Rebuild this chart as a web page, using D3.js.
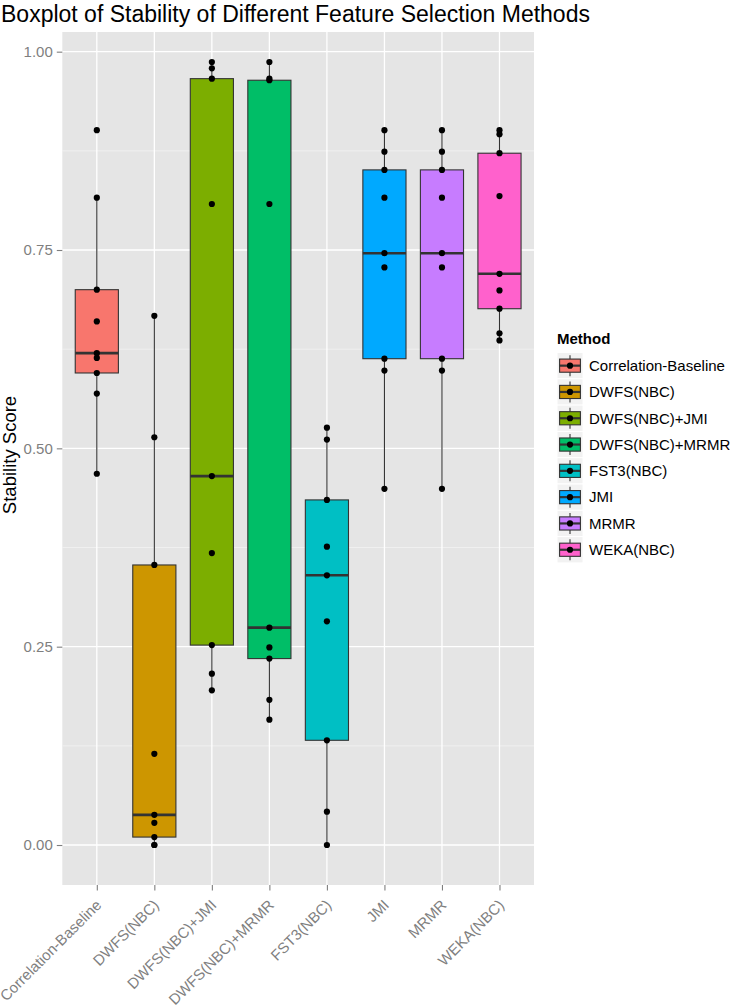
<!DOCTYPE html>
<html>
<head>
<meta charset="utf-8">
<script src="https://cdn.jsdelivr.net/npm/d3@7"></script>
<style>
html, body { margin: 0; padding: 0; background: #ffffff; }
svg { display: block; font-family: "Liberation Sans", Arial, sans-serif; }
</style>
</head>
<body>
<svg id="chart" width="734" height="1008"></svg>
<script>
// ---- data ----
const methods = ["Correlation-Baseline", "DWFS(NBC)", "DWFS(NBC)+JMI", "DWFS(NBC)+MRMR", "FST3(NBC)", "JMI", "MRMR", "WEKA(NBC)"];
const fillColors = ["#F8766D", "#CD9600", "#7CAE00", "#00BE67", "#00BFC4", "#00A9FF", "#C77CFF", "#FF61CC"];
const corrBaseline = [0.901, 0.816, 0.700, 0.660, 0.620, 0.614, 0.595, 0.569, 0.468];
const dwfsNbc = [0.667, 0.514, 0.353, 0.115, 0.038, 0.028, 0.010, 0.000, 0.000];
const dwfsJmi = [0.987, 0.979, 0.966, 0.808, 0.465, 0.368, 0.252, 0.216, 0.195];
const dwfsMrmr = [0.987, 0.966, 0.964, 0.808, 0.274, 0.249, 0.235, 0.183, 0.158];
const fst3Nbc = [0.526, 0.511, 0.435, 0.376, 0.340, 0.282, 0.132, 0.042, 0.000];
const jmi = [0.901, 0.874, 0.851, 0.816, 0.746, 0.728, 0.613, 0.598, 0.449];
const mrmr = [0.901, 0.874, 0.851, 0.816, 0.746, 0.728, 0.613, 0.598, 0.449];
const wekaNbc = [0.901, 0.896, 0.872, 0.818, 0.720, 0.699, 0.676, 0.645, 0.636];
const yTicks = [0, 0.25, 0.5, 0.75, 1];
const yTickLabels = ["0.00", "0.25", "0.50", "0.75", "1.00"];
const yMinorTicks = [0.125, 0.375, 0.625, 0.875];
const titleText = "Boxplot of Stability of Different Feature Selection Methods";
const yTitle = "Stability Score";
const legendTitle = "Method";

const seriesValues = [corrBaseline, dwfsNbc, dwfsJmi, dwfsMrmr, fst3Nbc, jmi, mrmr, wekaNbc];

// ---- layout ----
const panel = { left: 62.3, right: 534, top: 32, bottom: 885 };
const svg = d3.select("#chart");

const x = d3.scalePoint().domain(methods).range([panel.left, panel.right]).padding(0.6);
const y = d3.scaleLinear().domain([-0.0504, 1.0248]).range([panel.bottom, panel.top]);
const color = d3.scaleOrdinal().domain(methods).range(fillColors);
const boxW = x.step() * 0.75;

// stats
const stats = methods.map((m, i) => {
  const v = seriesValues[i].slice().sort(d3.ascending);
  const q1 = d3.quantile(v, 0.25), med = d3.quantile(v, 0.5), q3 = d3.quantile(v, 0.75);
  const iqr = q3 - q1;
  const lo = d3.min(v.filter(d => d >= q1 - 1.5 * iqr));
  const hi = d3.max(v.filter(d => d <= q3 + 1.5 * iqr));
  return { m, v, q1, med, q3, lo, hi };
});

// panel background
svg.append("rect").attr("x", panel.left).attr("y", panel.top)
  .attr("width", panel.right - panel.left).attr("height", panel.bottom - panel.top)
  .attr("fill", "#E5E5E5");

// grid
const g = svg.append("g");
g.selectAll("line.minor").data(yMinorTicks).enter().append("line")
  .attr("x1", panel.left).attr("x2", panel.right)
  .attr("y1", d => y(d)).attr("y2", d => y(d))
  .attr("stroke", "#F2F2F2").attr("stroke-width", 0.8);
g.selectAll("line.majy").data(yTicks).enter().append("line")
  .attr("x1", panel.left).attr("x2", panel.right)
  .attr("y1", d => y(d)).attr("y2", d => y(d))
  .attr("stroke", "#FFFFFF").attr("stroke-width", 1.3);
g.selectAll("line.majx").data(methods).enter().append("line")
  .attr("x1", d => x(d)).attr("x2", d => x(d))
  .attr("y1", panel.top).attr("y2", panel.bottom)
  .attr("stroke", "#FFFFFF").attr("stroke-width", 1.3);

// boxes
const bx = svg.append("g").selectAll("g").data(stats).enter().append("g");
bx.append("line").attr("x1", d => x(d.m)).attr("x2", d => x(d.m))
  .attr("y1", d => y(d.hi)).attr("y2", d => y(d.q3))
  .attr("stroke", "#333333").attr("stroke-width", 1.1);
bx.append("line").attr("x1", d => x(d.m)).attr("x2", d => x(d.m))
  .attr("y1", d => y(d.q1)).attr("y2", d => y(d.lo))
  .attr("stroke", "#333333").attr("stroke-width", 1.1);
bx.append("rect").attr("x", d => x(d.m) - boxW / 2).attr("width", boxW)
  .attr("y", d => y(d.q3)).attr("height", d => y(d.q1) - y(d.q3))
  .attr("fill", d => color(d.m)).attr("stroke", "#333333").attr("stroke-width", 1.1);
bx.append("line").attr("x1", d => x(d.m) - boxW / 2).attr("x2", d => x(d.m) + boxW / 2)
  .attr("y1", d => y(d.med)).attr("y2", d => y(d.med))
  .attr("stroke", "#333333").attr("stroke-width", 2.6);

// points
const pts = [];
stats.forEach(s => s.v.forEach(v => pts.push({ m: s.m, v })));
svg.append("g").selectAll("circle").data(pts).enter().append("circle")
  .attr("cx", d => x(d.m)).attr("cy", d => y(d.v)).attr("r", 3.1).attr("fill", "#000000");

// y axis
const yAxis = d3.axisLeft(y).tickValues(yTicks).tickFormat((d, i) => yTickLabels[i]).tickSize(5.5).tickPadding(4);
const ya = svg.append("g").attr("transform", `translate(${panel.left},0)`).call(yAxis);
ya.select(".domain").remove();
ya.selectAll(".tick line").attr("stroke", "#7F7F7F").attr("stroke-width", 1.1);
ya.selectAll(".tick text").attr("fill", "#7F7F7F").attr("font-size", 15)
  .attr("font-family", "Liberation Sans, Arial, sans-serif");

// x axis
const xAxis = d3.axisBottom(x).tickSize(5.5).tickPadding(0);
const xa = svg.append("g").attr("transform", `translate(0,${panel.bottom})`).call(xAxis);
xa.select(".domain").remove();
xa.selectAll(".tick line").attr("stroke", "#7F7F7F").attr("stroke-width", 1.1);
xa.selectAll(".tick text").attr("fill", "#7F7F7F").attr("font-size", 15)
  .attr("font-family", "Liberation Sans, Arial, sans-serif")
  .attr("text-anchor", "end").attr("dy", null).attr("y", null)
  .attr("transform", "translate(5,21) rotate(-45)");

// titles
svg.append("text").attr("x", 1).attr("y", 22).attr("font-size", 23).attr("fill", "#000")
  .text(titleText);
svg.append("text").attr("transform", "translate(15.5,455) rotate(-90)")
  .attr("text-anchor", "middle").attr("font-size", 18.5).attr("fill", "#000").text(yTitle);

// legend
const lg = svg.append("g");
lg.append("text").attr("x", 557).attr("y", 344).attr("font-size", 15).attr("font-weight", "bold")
  .attr("fill", "#000").text(legendTitle);
const keyH = 26.3, keyW = 26, keyX = 557, keyY0 = 352.5;
const items = lg.selectAll("g.item").data(methods).enter().append("g")
  .attr("transform", (d, i) => `translate(${keyX},${keyY0 + i * keyH})`);
items.append("rect").attr("width", keyW).attr("height", keyH).attr("fill", "#F2F2F2")
  .attr("stroke", "#FFFFFF").attr("stroke-width", 1);
items.append("line").attr("x1", keyW / 2).attr("x2", keyW / 2).attr("y1", keyH * 0.1).attr("y2", keyH * 0.9)
  .attr("stroke", "#333333").attr("stroke-width", 1.1);
items.append("rect").attr("x", keyW * 0.1).attr("width", keyW * 0.8)
  .attr("y", keyH * 0.25).attr("height", keyH * 0.5)
  .attr("fill", d => color(d)).attr("stroke", "#333333").attr("stroke-width", 1.1);
items.append("line").attr("x1", keyW * 0.1).attr("x2", keyW * 0.9).attr("y1", keyH / 2).attr("y2", keyH / 2)
  .attr("stroke", "#333333").attr("stroke-width", 2.2);
items.append("circle").attr("cx", keyW / 2).attr("cy", keyH / 2).attr("r", 3.1).attr("fill", "#000");
items.append("text").attr("x", 32).attr("y", keyH / 2 + 5.3).attr("font-size", 15).attr("fill", "#000")
  .text(d => d);
</script>
</body>
</html>
